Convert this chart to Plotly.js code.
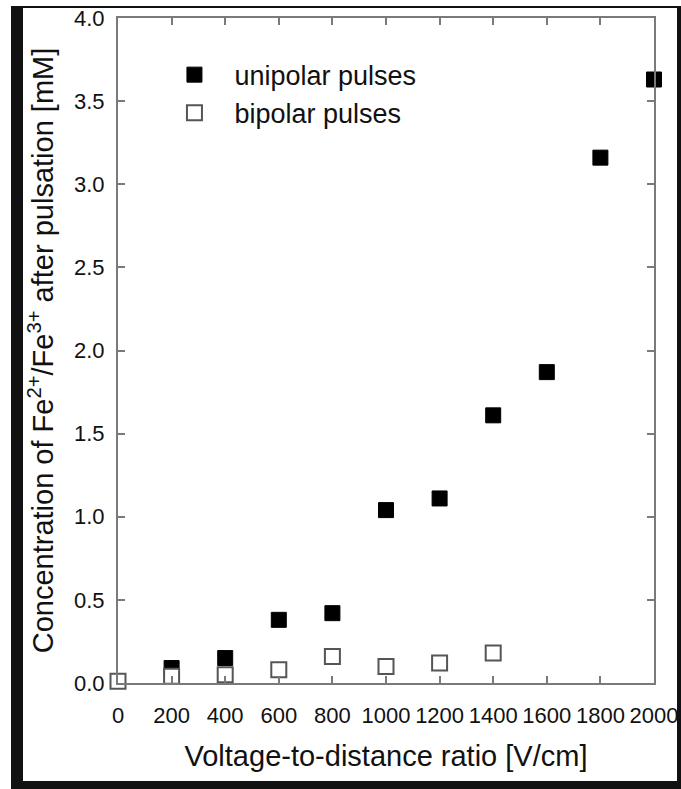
<!DOCTYPE html>
<html>
<head>
<meta charset="utf-8">
<script src="https://cdn.plot.ly/plotly-3.0.1.min.js"></script>
<style>
  html, body { margin: 0; padding: 0; background: #fff; }
  #frame { position: absolute; left: 11px; top: 6px; width: 670px; height: 783px;
           box-sizing: border-box; border-left: 12px solid #111; border-top: 2px solid #111;
           border-right: 4px solid #111; border-bottom: 8px solid #111; pointer-events: none; z-index: 5; }
  #chart { position: absolute; left: 0; top: 0; width: 681px; height: 789px; }
</style>
</head>
<body>
<div id="chart"></div>
<div id="frame"></div>
<script>
// Data
const voltageUnipolar = [200, 400, 600, 800, 1000, 1200, 1400, 1600, 1800, 2000];
const concUnipolar    = [0.09, 0.15, 0.38, 0.42, 1.04, 1.11, 1.61, 1.87, 3.16, 3.63];
const voltageBipolar  = [0, 200, 400, 600, 800, 1000, 1200, 1400];
const concBipolar     = [0.01, 0.04, 0.05, 0.08, 0.16, 0.10, 0.12, 0.18];
const xTicks = [0, 200, 400, 600, 800, 1000, 1200, 1400, 1600, 1800, 2000];
const yTicks = [0, 0.5, 1.0, 1.5, 2.0, 2.5, 3.0, 3.5, 4.0];

const tickFontFamily = '"Liberation Sans", Arial, sans-serif';
const textFont = '"Liberation Sans", Arial, sans-serif';
const axisColor = '#7a7a7a';

const traces = [
  {
    x: voltageUnipolar, y: concUnipolar, name: 'unipolar pulses',
    type: 'scatter', mode: 'markers', cliponaxis: false,
    marker: { symbol: 'square', size: 15, color: '#000', line: { color: '#000', width: 1 } }
  },
  {
    x: voltageBipolar, y: concBipolar, name: 'bipolar pulses',
    type: 'scatter', mode: 'markers', cliponaxis: false,
    marker: { symbol: 'square', size: 15, color: '#fff', line: { color: '#555', width: 2 } }
  }
];

const layout = {
  width: 681, height: 789,
  margin: { l: 118, r: 27, t: 18, b: 106 },
  paper_bgcolor: '#fff', plot_bgcolor: '#fff',
  showlegend: true,
  legend: {
    x: 0.068, y: 0.951, xanchor: 'left', yanchor: 'top',
    font: { family: textFont, size: 27, color: '#111' },
    bgcolor: 'rgba(0,0,0,0)', itemwidth: 70, tracegroupgap: 0
  },
  xaxis: {
    range: [0, 2000], tickvals: xTicks, ticktext: xTicks.map(String),
    showline: true, linecolor: axisColor, linewidth: 2, mirror: 'ticks',
    ticks: 'inside', ticklen: 7, tickwidth: 2, tickcolor: axisColor,
    showgrid: false, zeroline: false, ticklabelstandoff: 12,
    tickfont: { family: tickFontFamily, size: 22, color: '#111' },
    title: { text: 'Voltage-to-distance ratio [V/cm]', standoff: 18,
             font: { family: textFont, size: 29, color: '#111' } }
  },
  yaxis: {
    range: [0, 4], tickvals: yTicks, ticktext: yTicks.map(v => v.toFixed(1)),
    showline: true, linecolor: axisColor, linewidth: 2, mirror: 'ticks',
    ticks: 'inside', ticklen: 7, tickwidth: 2, tickcolor: axisColor,
    showgrid: false, zeroline: false, ticklabelstandoff: 7,
    tickfont: { family: tickFontFamily, size: 22, color: '#111' },
    title: { text: 'Concentration of Fe<sup>2+</sup>/Fe<sup>3+</sup> after pulsation [mM]', standoff: 12,
             font: { family: textFont, size: 29, color: '#111' } }
  }
};

Plotly.newPlot('chart', traces, layout, { displayModeBar: false, staticPlot: true });
</script>
</body>
</html>
